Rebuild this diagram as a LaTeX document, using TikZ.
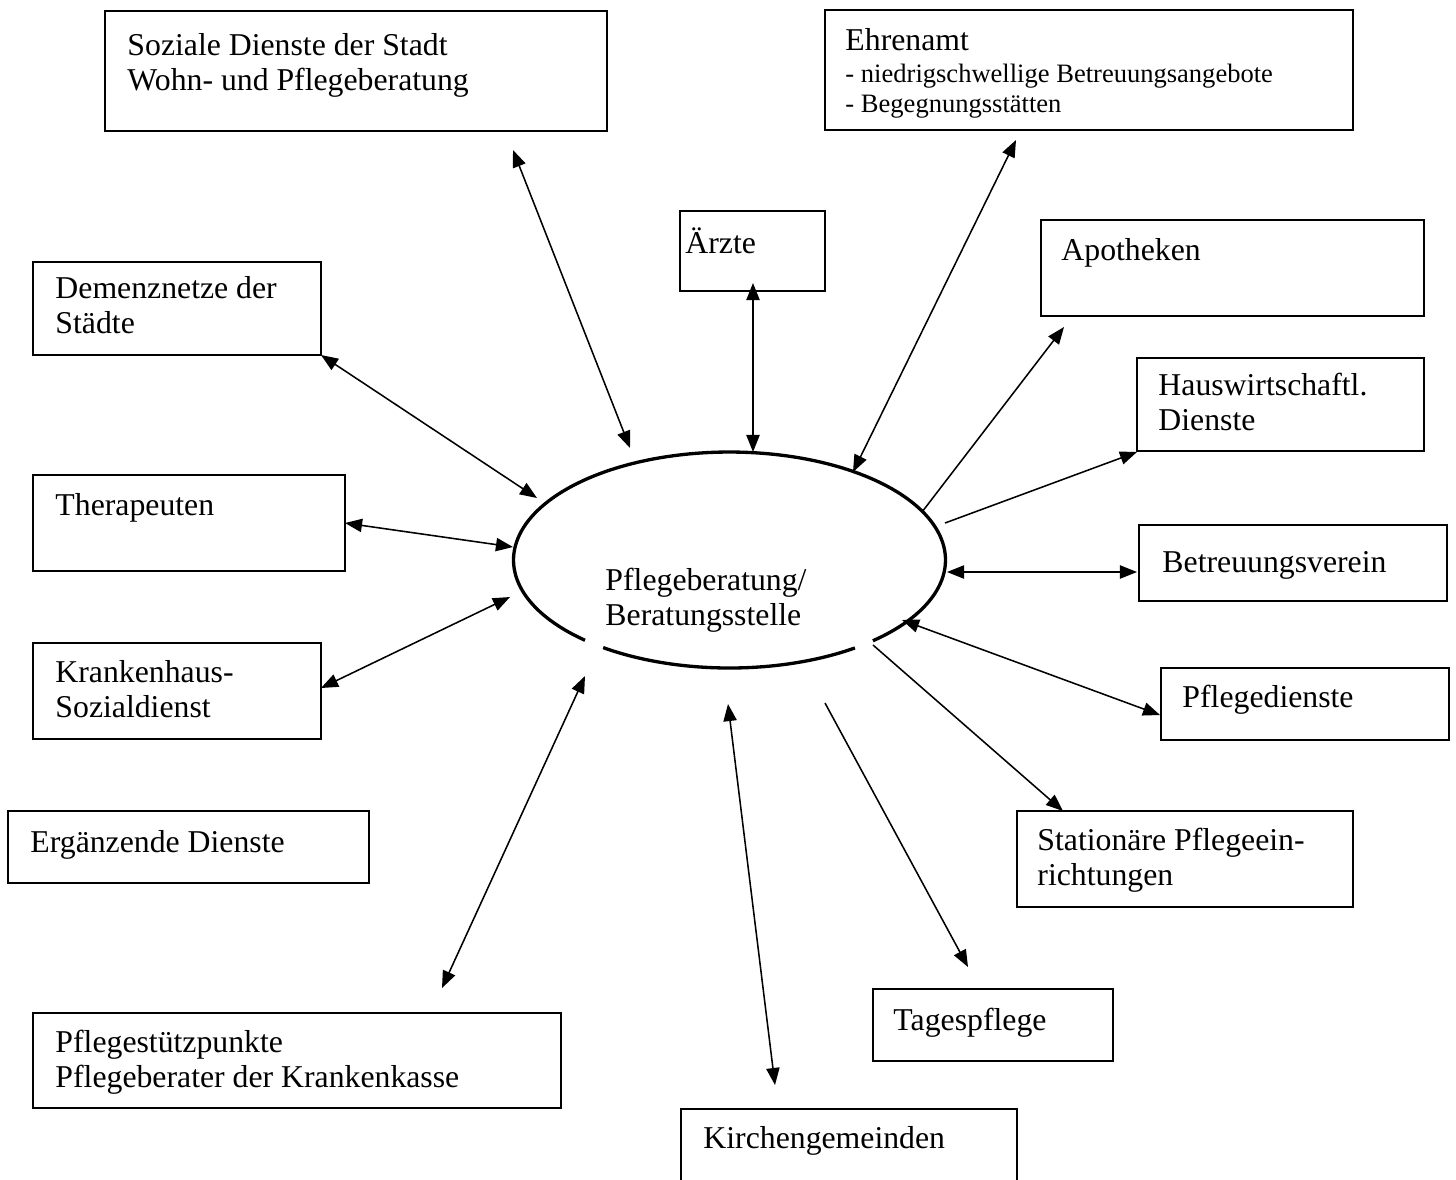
\documentclass[tikz,border=0pt]{standalone}
\usepackage{fontspec}
\setmainfont{Liberation Serif}
\usetikzlibrary{arrows.meta,fit,shapes.geometric}
\newcommand\mlines[1]{\begin{tabular}[t]{@{}l@{}}#1\end{tabular}}
\begin{document}
\begin{tikzpicture}[x=0.422pt,y=-0.422pt,
  box/.style={draw, line width=0.85pt, inner sep=0pt},
  txt/.style={inner sep=0pt, anchor=base west, font=\fontsize{13.4}{14.9}\selectfont},
  small/.style={font=\fontsize{11.2}{12.5}\selectfont},
  con/.style={line width=0.65pt},
  tipA/.tip={Triangle[length=7.2pt,width=5.6pt]},
  both/.style={con, tipA-tipA},
  one/.style={con, -tipA},
  ell/.style={line width=1.4pt}]
\useasboundingbox (0,0) rectangle (1456,1179);
% boxes
\node[box, fit={(105,11) (607,131)}] (soz) {};
\node[box, fit={(825,10) (1353,130)}] (ehr) {};
\node[box, fit={(680,211) (825,291)}] (arz) {};
\node[box, fit={(1041,220) (1424,316)}] (apo) {};
\node[box, fit={(33,262) (321,355)}] (dem) {};
\node[box, fit={(1137,358) (1424,451)}] (hau) {};
\node[box, fit={(33,475) (345,571)}] (the) {};
\node[box, fit={(1139,525) (1447,601)}] (bet) {};
\node[box, fit={(33,643) (321,739)}] (kra) {};
\node[box, fit={(1161,668) (1449,740)}] (pfd) {};
\node[box, fit={(8,811) (369,883)}] (erg) {};
\node[box, fit={(1017,811) (1353,907)}] (sta) {};
\node[box, fit={(873,989) (1113,1061)}] (tag) {};
\node[box, fit={(33,1013) (561,1108)}] (pst) {};
\node[box, fit={(681,1109) (1017,1200)}] (kir) {};
% texts
\node[txt] (soz-t) at (127,55) {\mlines{Soziale Dienste der Stadt\\Wohn- und Pflegeberatung}};
\node[txt] (ehr-t) at (845,50) {\mlines{Ehrenamt\\[-1pt]{\fontsize{11.2}{12.5}\selectfont - niedrigschwellige Betreuungsangebote}\\[-2.6pt]{\fontsize{11.2}{12.5}\selectfont - Begegnungsstätten}}};
\node[txt] (arz-t) at (685,253) {Ärzte};
\node[txt] (apo-t) at (1061,260) {Apotheken};
\node[txt] (dem-t) at (55,298) {\mlines{Demenznetze der\\Städte}};
\node[txt] (hau-t) at (1158,395) {\mlines{Hauswirtschaftl.\\Dienste}};
\node[txt] (the-t) at (55,515) {Therapeuten};
\node[txt] (bet-t) at (1162,572) {Betreuungsverein};
\node[txt] (kra-t) at (55,682) {\mlines{Krankenhaus-\\Sozialdienst}};
\node[txt] (pfd-t) at (1182,707) {Pflegedienste};
\node[txt] (erg-t) at (30,852) {Ergänzende Dienste};
\node[txt] (sta-t) at (1037,850) {\mlines{Stationäre Pflegeein-\\richtungen}};
\node[txt] (tag-t) at (893,1030) {Tagespflege};
\node[txt] (pst-t) at (55,1052) {\mlines{Pflegestützpunkte\\Pflegeberater der Krankenkasse}};
\node[txt] (kir-t) at (703,1148) {Kirchengemeinden};
% central ellipse
\node[ellipse, minimum width=182.3pt, minimum height=91.2pt, inner sep=0pt] (pb) at (729.5,560) {};
\draw[ell] plot[domain=132:408.4, samples=140] ({729.5+216*cos(\x)},{560+108*sin(\x)});
\draw[ell] plot[domain=54.5:125.8, samples=50] ({729.5+216*cos(\x)},{560+108*sin(\x)});
\node[txt] (pb-t) at (605,590) {\mlines{Pflegeberatung/\\Beratungsstelle}};
% connector end points
\coordinate (soz-e) at (513,150);  \coordinate (pb-soz) at (630,448);
\coordinate (arz-e) at (753,283);  \coordinate (pb-arz) at (753,452);
\coordinate (ehr-e) at (1016,140); \coordinate (pb-ehr) at (853,472);
\coordinate (apo-e) at (1064,327); \coordinate (pb-apo) at (922,512);
\coordinate (hau-e) at (1137,452); \coordinate (pb-hau) at (945,523);
\coordinate (bet-e) at (1137,572); \coordinate (pb-bet) at (947,572);
\coordinate (pfd-e) at (1160,715); \coordinate (pb-pfd) at (902,620);
\coordinate (sta-e) at (1063,811); \coordinate (pb-sta) at (873,645);
\coordinate (tag-e) at (968,967);  \coordinate (pb-tag) at (825,703);
\coordinate (kir-e) at (775,1085); \coordinate (pb-kir) at (728,704);
\coordinate (pst-e) at (442,988);  \coordinate (pb-pst) at (585,676);
\coordinate (kra-e) at (321,688);  \coordinate (pb-kra) at (510,597);
\coordinate (the-e) at (345,523);  \coordinate (pb-the) at (513,547);
\coordinate (dem-e) at (321,355);  \coordinate (pb-dem) at (537,498);
% connectors
\draw[both] (soz-e) -- (pb-soz);
\draw[both] (arz-e) -- (pb-arz);
\draw[both] (ehr-e) -- (pb-ehr);
\draw[one] (pb-apo) -- (apo-e);
\draw[one] (pb-hau) -- (hau-e);
\draw[both] (bet-e) -- (pb-bet);
\draw[both] (pfd-e) -- (pb-pfd);
\draw[one] (pb-sta) -- (sta-e);
\draw[one] (pb-tag) -- (tag-e);
\draw[both] (kir-e) -- (pb-kir);
\draw[both] (pst-e) -- (pb-pst);
\draw[both] (kra-e) -- (pb-kra);
\draw[both] (the-e) -- (pb-the);
\draw[both] (dem-e) -- (pb-dem);
\end{tikzpicture}
\end{document}
